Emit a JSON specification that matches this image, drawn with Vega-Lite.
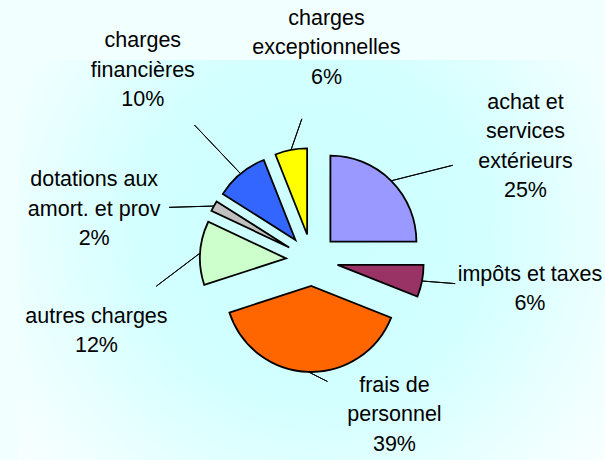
{
  "$schema": "https://vega.github.io/schema/vega-lite/v6.json",
  "width": 586,
  "height": 400,
  "autosize": "none",
  "padding": {"left": 19, "top": 60, "right": 0, "bottom": 0},
  "background": "#f2ffff",
  "config": {"view": {"stroke": null}},
  "datasets": {
    "charges": [
      {"idx": 1, "name": "achat et services extérieurs", "label": "achat et\nservices\nextérieurs", "value": 25},
      {"idx": 2, "name": "impôts et taxes", "label": "impôts et taxes", "value": 6},
      {"idx": 3, "name": "frais de personnel", "label": "frais de\npersonnel", "value": 39},
      {"idx": 4, "name": "autres charges", "label": "autres charges", "value": 12},
      {"idx": 5, "name": "dotations aux amort. et prov", "label": "dotations aux\namort. et prov", "value": 2},
      {"idx": 6, "name": "charges financières", "label": "charges\nfinancières", "value": 10},
      {"idx": 7, "name": "charges exceptionnelles", "label": "charges\nexceptionnelles", "value": 6}
    ]
  },
  "layer": [
    {
      "data": {"values": [{}]},
      "mark": {
        "type": "rect",
        "fill": {
          "gradient": "radial",
          "x1": 0.5, "y1": 0.45, "r1": 0,
          "x2": 0.5, "y2": 0.45, "r2": 0.72,
          "stops": [
            {"offset": 0, "color": "#ccffff"},
            {"offset": 0.4, "color": "#d2ffff"},
            {"offset": 0.75, "color": "#f0ffff"},
            {"offset": 1, "color": "#ffffff"}
          ]
        }
      }
    },
    {
      "data": {"name": "charges"},
      "mark": {
        "type": "arc",
        "radius": 86,
        "stroke": "#000000",
        "strokeWidth": 1.8,
        "xOffset": {"expr": "26*sin(PI*(datum.value_start+datum.value_end)/100)"},
        "yOffset": {"expr": "-26*cos(PI*(datum.value_start+datum.value_end)/100)"}
      },
      "encoding": {
        "theta": {"field": "value", "type": "quantitative", "stack": true},
        "order": {"field": "idx", "type": "quantitative"},
        "color": {
          "field": "name",
          "type": "nominal",
          "scale": {
            "domain": ["achat et services extérieurs", "impôts et taxes", "frais de personnel", "autres charges", "dotations aux amort. et prov", "charges financières", "charges exceptionnelles"],
            "range": ["#9999ff", "#993366", "#ff6600", "#ccffcc", "#c0c0c0", "#3366ff", "#ffff00"]
          },
          "legend": null
        }
      }
    },
    {
      "data": {"name": "charges"},
      "mark": {
        "type": "arc",
        "filled": false,
        "stroke": "#000000",
        "strokeWidth": 1,
        "padAngle": 3.14159,
        "innerRadius": 0,
        "xOffset": {"expr": "112*sin(PI*(datum.value_start+datum.value_end)/100)"},
        "yOffset": {"expr": "-112*cos(PI*(datum.value_start+datum.value_end)/100)"},
        "thetaOffset": {"expr": "atan2(((pow(pow(abs(sin(((PI*(datum.value_start+datum.value_end)/100)-0.0855+0.445*cos((PI*(datum.value_start+datum.value_end)/100)-0.26)-0.297*exp((cos((PI*(datum.value_start+datum.value_end)/100)-5.184)-1)/0.239))))/218,4)+pow(abs(cos(((PI*(datum.value_start+datum.value_end)/100)-0.0855+0.445*cos((PI*(datum.value_start+datum.value_end)/100)-0.26)-0.297*exp((cos((PI*(datum.value_start+datum.value_end)/100)-5.184)-1)/0.239))))/(cos(((PI*(datum.value_start+datum.value_end)/100)-0.0855+0.445*cos((PI*(datum.value_start+datum.value_end)/100)-0.26)-0.297*exp((cos((PI*(datum.value_start+datum.value_end)/100)-5.184)-1)/0.239)))>0?212:156),4),-0.25))*sin(((PI*(datum.value_start+datum.value_end)/100)-0.0855+0.445*cos((PI*(datum.value_start+datum.value_end)/100)-0.26)-0.297*exp((cos((PI*(datum.value_start+datum.value_end)/100)-5.184)-1)/0.239)))-112*sin(PI*(datum.value_start+datum.value_end)/100)),((pow(pow(abs(sin(((PI*(datum.value_start+datum.value_end)/100)-0.0855+0.445*cos((PI*(datum.value_start+datum.value_end)/100)-0.26)-0.297*exp((cos((PI*(datum.value_start+datum.value_end)/100)-5.184)-1)/0.239))))/218,4)+pow(abs(cos(((PI*(datum.value_start+datum.value_end)/100)-0.0855+0.445*cos((PI*(datum.value_start+datum.value_end)/100)-0.26)-0.297*exp((cos((PI*(datum.value_start+datum.value_end)/100)-5.184)-1)/0.239))))/(cos(((PI*(datum.value_start+datum.value_end)/100)-0.0855+0.445*cos((PI*(datum.value_start+datum.value_end)/100)-0.26)-0.297*exp((cos((PI*(datum.value_start+datum.value_end)/100)-5.184)-1)/0.239)))>0?212:156),4),-0.25))*cos(((PI*(datum.value_start+datum.value_end)/100)-0.0855+0.445*cos((PI*(datum.value_start+datum.value_end)/100)-0.26)-0.297*exp((cos((PI*(datum.value_start+datum.value_end)/100)-5.184)-1)/0.239)))-112*cos(PI*(datum.value_start+datum.value_end)/100)))-(PI*(datum.value_start+datum.value_end)/100)"},
        "theta2Offset": {"expr": "atan2(((pow(pow(abs(sin(((PI*(datum.value_start+datum.value_end)/100)-0.0855+0.445*cos((PI*(datum.value_start+datum.value_end)/100)-0.26)-0.297*exp((cos((PI*(datum.value_start+datum.value_end)/100)-5.184)-1)/0.239))))/218,4)+pow(abs(cos(((PI*(datum.value_start+datum.value_end)/100)-0.0855+0.445*cos((PI*(datum.value_start+datum.value_end)/100)-0.26)-0.297*exp((cos((PI*(datum.value_start+datum.value_end)/100)-5.184)-1)/0.239))))/(cos(((PI*(datum.value_start+datum.value_end)/100)-0.0855+0.445*cos((PI*(datum.value_start+datum.value_end)/100)-0.26)-0.297*exp((cos((PI*(datum.value_start+datum.value_end)/100)-5.184)-1)/0.239)))>0?212:156),4),-0.25))*sin(((PI*(datum.value_start+datum.value_end)/100)-0.0855+0.445*cos((PI*(datum.value_start+datum.value_end)/100)-0.26)-0.297*exp((cos((PI*(datum.value_start+datum.value_end)/100)-5.184)-1)/0.239)))-112*sin(PI*(datum.value_start+datum.value_end)/100)),((pow(pow(abs(sin(((PI*(datum.value_start+datum.value_end)/100)-0.0855+0.445*cos((PI*(datum.value_start+datum.value_end)/100)-0.26)-0.297*exp((cos((PI*(datum.value_start+datum.value_end)/100)-5.184)-1)/0.239))))/218,4)+pow(abs(cos(((PI*(datum.value_start+datum.value_end)/100)-0.0855+0.445*cos((PI*(datum.value_start+datum.value_end)/100)-0.26)-0.297*exp((cos((PI*(datum.value_start+datum.value_end)/100)-5.184)-1)/0.239))))/(cos(((PI*(datum.value_start+datum.value_end)/100)-0.0855+0.445*cos((PI*(datum.value_start+datum.value_end)/100)-0.26)-0.297*exp((cos((PI*(datum.value_start+datum.value_end)/100)-5.184)-1)/0.239)))>0?212:156),4),-0.25))*cos(((PI*(datum.value_start+datum.value_end)/100)-0.0855+0.445*cos((PI*(datum.value_start+datum.value_end)/100)-0.26)-0.297*exp((cos((PI*(datum.value_start+datum.value_end)/100)-5.184)-1)/0.239)))-112*cos(PI*(datum.value_start+datum.value_end)/100)))-(PI*(datum.value_start+datum.value_end)/100)"},
        "outerRadius": {"expr": "max(6,sqrt(pow(((pow(pow(abs(sin(((PI*(datum.value_start+datum.value_end)/100)-0.0855+0.445*cos((PI*(datum.value_start+datum.value_end)/100)-0.26)-0.297*exp((cos((PI*(datum.value_start+datum.value_end)/100)-5.184)-1)/0.239))))/218,4)+pow(abs(cos(((PI*(datum.value_start+datum.value_end)/100)-0.0855+0.445*cos((PI*(datum.value_start+datum.value_end)/100)-0.26)-0.297*exp((cos((PI*(datum.value_start+datum.value_end)/100)-5.184)-1)/0.239))))/(cos(((PI*(datum.value_start+datum.value_end)/100)-0.0855+0.445*cos((PI*(datum.value_start+datum.value_end)/100)-0.26)-0.297*exp((cos((PI*(datum.value_start+datum.value_end)/100)-5.184)-1)/0.239)))>0?212:156),4),-0.25))*sin(((PI*(datum.value_start+datum.value_end)/100)-0.0855+0.445*cos((PI*(datum.value_start+datum.value_end)/100)-0.26)-0.297*exp((cos((PI*(datum.value_start+datum.value_end)/100)-5.184)-1)/0.239)))-112*sin(PI*(datum.value_start+datum.value_end)/100)),2)+pow(((pow(pow(abs(sin(((PI*(datum.value_start+datum.value_end)/100)-0.0855+0.445*cos((PI*(datum.value_start+datum.value_end)/100)-0.26)-0.297*exp((cos((PI*(datum.value_start+datum.value_end)/100)-5.184)-1)/0.239))))/218,4)+pow(abs(cos(((PI*(datum.value_start+datum.value_end)/100)-0.0855+0.445*cos((PI*(datum.value_start+datum.value_end)/100)-0.26)-0.297*exp((cos((PI*(datum.value_start+datum.value_end)/100)-5.184)-1)/0.239))))/(cos(((PI*(datum.value_start+datum.value_end)/100)-0.0855+0.445*cos((PI*(datum.value_start+datum.value_end)/100)-0.26)-0.297*exp((cos((PI*(datum.value_start+datum.value_end)/100)-5.184)-1)/0.239)))>0?212:156),4),-0.25))*cos(((PI*(datum.value_start+datum.value_end)/100)-0.0855+0.445*cos((PI*(datum.value_start+datum.value_end)/100)-0.26)-0.297*exp((cos((PI*(datum.value_start+datum.value_end)/100)-5.184)-1)/0.239)))-112*cos(PI*(datum.value_start+datum.value_end)/100)),2))-75)"}
      },
      "encoding": {
        "theta": {"field": "value", "type": "quantitative", "stack": true},
        "order": {"field": "idx", "type": "quantitative"}
      }
    },
    {
      "data": {"name": "charges"},
      "transform": [{"calculate": "datum.label + '\\n' + datum.value + '%'", "as": "txt"}],
      "mark": {
        "type": "text",
        "font": "Liberation Sans",
        "fontSize": 21.5,
        "lineHeight": 29.5,
        "lineBreak": "\n",
        "align": "center",
        "baseline": "middle",
        "color": "#000000",
        "dy": {"expr": "-(length(split(datum.txt,'\\n'))-1)*14.75"},
        "thetaOffset": {"expr": "-0.0855+0.445*cos((PI*(datum.value_start+datum.value_end)/100)-0.26)-0.297*exp((cos((PI*(datum.value_start+datum.value_end)/100)-5.184)-1)/0.239)"},
        "radius": {"expr": "(pow(pow(abs(sin(((PI*(datum.value_start+datum.value_end)/100)-0.0855+0.445*cos((PI*(datum.value_start+datum.value_end)/100)-0.26)-0.297*exp((cos((PI*(datum.value_start+datum.value_end)/100)-5.184)-1)/0.239))))/218,4)+pow(abs(cos(((PI*(datum.value_start+datum.value_end)/100)-0.0855+0.445*cos((PI*(datum.value_start+datum.value_end)/100)-0.26)-0.297*exp((cos((PI*(datum.value_start+datum.value_end)/100)-5.184)-1)/0.239))))/(cos(((PI*(datum.value_start+datum.value_end)/100)-0.0855+0.445*cos((PI*(datum.value_start+datum.value_end)/100)-0.26)-0.297*exp((cos((PI*(datum.value_start+datum.value_end)/100)-5.184)-1)/0.239)))>0?212:156),4),-0.25))"}
      },
      "encoding": {
        "theta": {"field": "value", "type": "quantitative", "stack": true},
        "order": {"field": "idx", "type": "quantitative"},
        "text": {"field": "txt", "type": "nominal"}
      }
    }
  ]
}
